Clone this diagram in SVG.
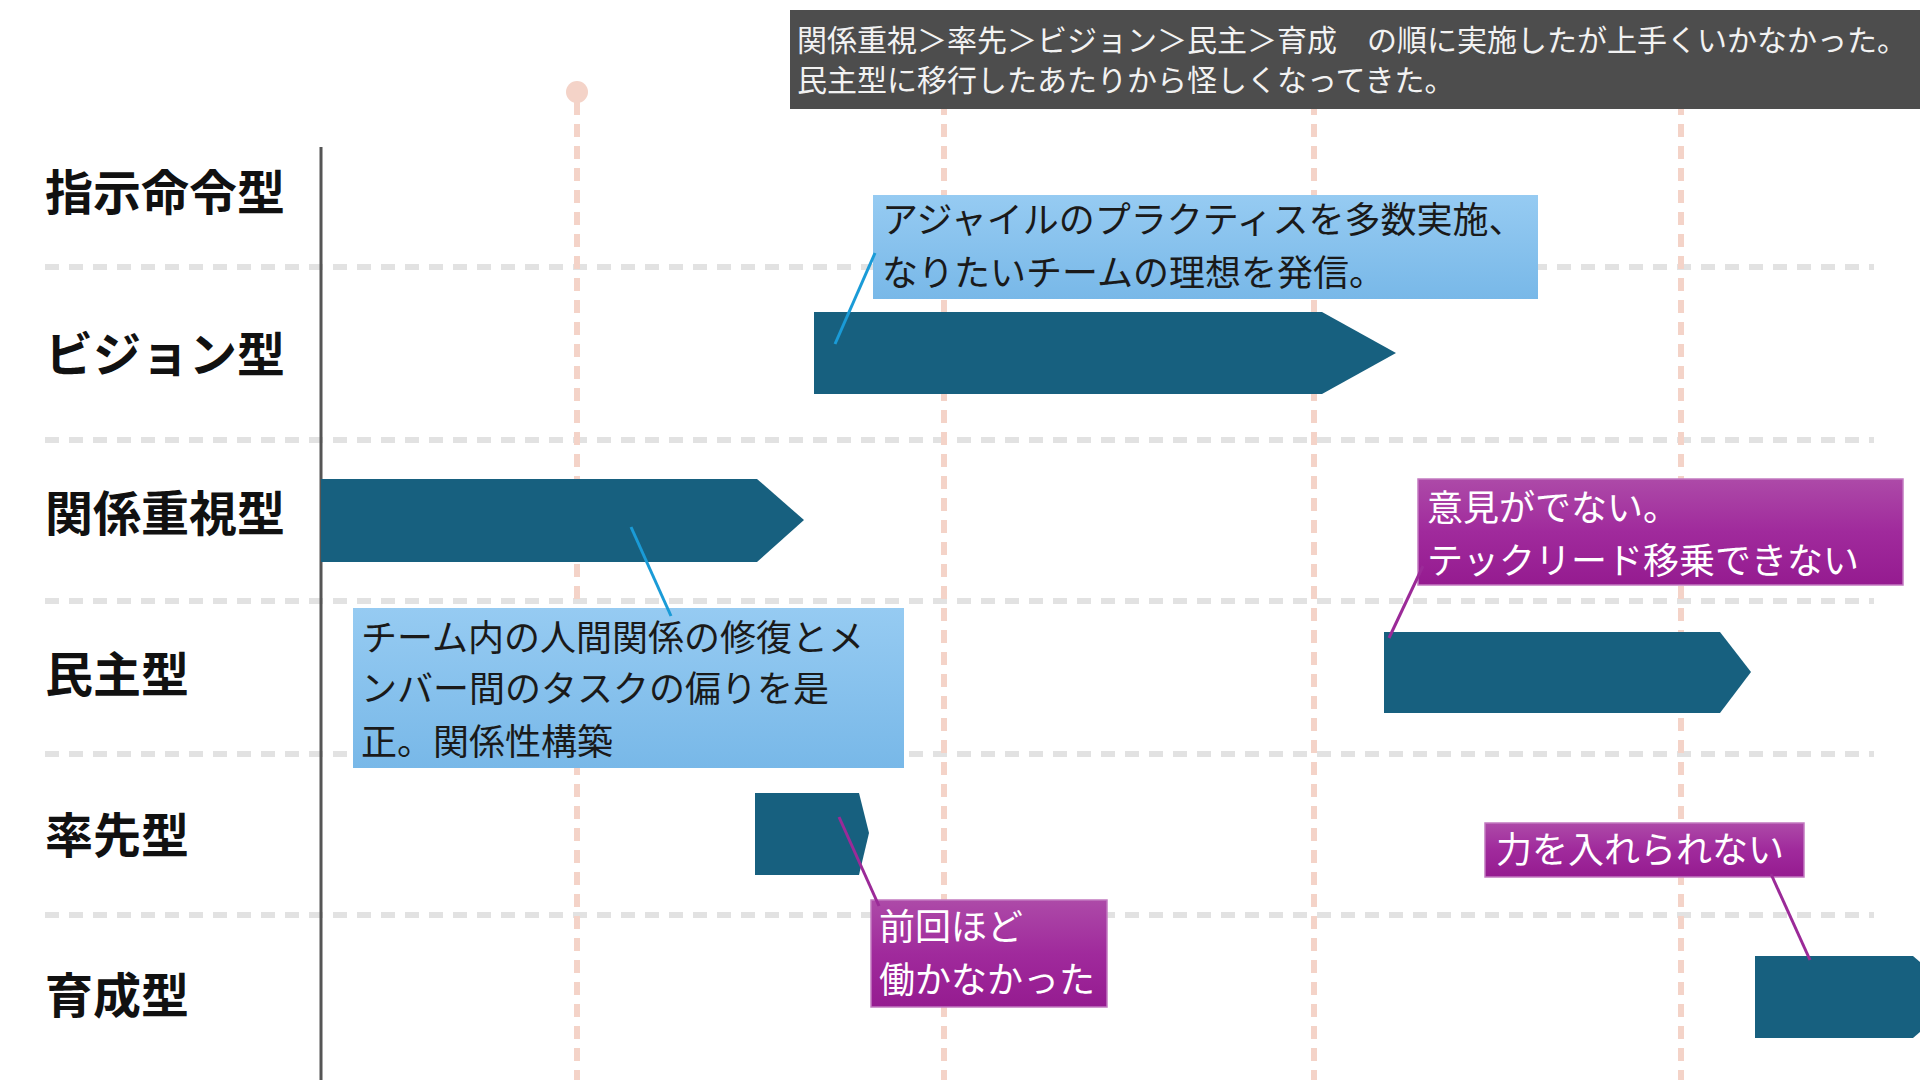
<svg xmlns="http://www.w3.org/2000/svg" width="1920" height="1080" viewBox="0 0 1920 1080">
<defs>
<linearGradient id="gBlue" x1="0" y1="0" x2="0" y2="1"><stop offset="0" stop-color="#96cbf2"/><stop offset="1" stop-color="#78b8e8"/></linearGradient>
<linearGradient id="gPurple" x1="0" y1="0" x2="0" y2="1"><stop offset="0" stop-color="#ad4aa8"/><stop offset="0.5" stop-color="#a02a9c"/><stop offset="1" stop-color="#951b90"/></linearGradient>
<style>
.row{stroke:#e2e2e2;stroke-width:6;stroke-dasharray:14 10;fill:none}
.col{stroke:#f4d3c8;stroke-width:6;stroke-dasharray:13 9;fill:none}
.bar{fill:#17607f}
.lbl{font-family:"Noto Sans CJK JP","Noto Sans",sans-serif;font-weight:700;font-size:48px;fill:#111}
.ct{font-family:"Noto Sans CJK JP","Noto Sans",sans-serif;font-size:36px}
.blue{fill:url(#gBlue)}
.purple{fill:url(#gPurple);stroke:#c27ac0;stroke-width:1.5}
.hd{font-family:"Noto Sans CJK JP","Noto Sans",sans-serif;font-size:30px;fill:#f2f2f2}
.lb{stroke:#1a9bd7;stroke-width:3;fill:none}
.lp{stroke:#9b2a98;stroke-width:3;fill:none}
</style>
</defs>
<rect width="1920" height="1080" fill="#ffffff"/>
<g id="grid">
<line class="row" x1="45" y1="267" x2="1874" y2="267"/>
<line class="row" x1="45" y1="440" x2="1874" y2="440"/>
<line class="row" x1="45" y1="601" x2="1874" y2="601"/>
<line class="row" x1="45" y1="754" x2="1874" y2="754"/>
<line class="row" x1="45" y1="915" x2="1874" y2="915"/>
<line class="col" x1="577" y1="102" x2="577" y2="1080"/>
<line class="col" x1="944" y1="102" x2="944" y2="1080"/>
<line class="col" x1="1314" y1="102" x2="1314" y2="1080"/>
<line class="col" x1="1681" y1="102" x2="1681" y2="1080"/>
<circle cx="577" cy="92" r="11" fill="#f4d3c8"/>
<line x1="321" y1="147" x2="321" y2="1080" stroke="#555555" stroke-width="3"/>
</g>
<g id="labels">
<text class="lbl" x="45" y="210">指示命令型</text>
<text class="lbl" x="45" y="372">ビジョン型</text>
<text class="lbl" x="45" y="531">関係重視型</text>
<text class="lbl" x="45" y="692">民主型</text>
<text class="lbl" x="45" y="853">率先型</text>
<text class="lbl" x="45" y="1013">育成型</text>
</g>
<g id="header">
<rect x="790" y="10" width="1130" height="99" fill="#4d4d4d"/>
<text class="hd" x="797" y="51">関係重視＞率先＞ビジョン＞民主＞育成　の順に実施したが上手くいかなかった。</text>
<text class="hd" x="797" y="91">民主型に移行したあたりから怪しくなってきた。</text>
</g>
<g id="bars">
<polygon id="bar-vision" class="bar" points="814,312 1322,312 1396,353 1322,394 814,394"/>
<polygon id="bar-kankei" class="bar" points="321,479 757,479 804,520 757,562 321,562"/>
<polygon id="bar-minshu" class="bar" points="1384,632 1720,632 1751,672 1720,713 1384,713"/>
<polygon id="bar-sossen" class="bar" points="755,793 859,793 869,833 859,875 755,875"/>
<polygon id="bar-ikusei" class="bar" points="1755,956 1913,956 1960,997 1913,1038 1755,1038"/>
</g>
<g id="callout-vision">
<rect class="blue" x="873" y="195" width="665" height="104"/>
<text class="ct" x="882" y="233" fill="#1a1a1a">アジャイルのプラクティスを多数実施、</text>
<text class="ct" x="882" y="286" fill="#1a1a1a">なりたいチームの理想を発信。</text>
</g>
<g id="callout-kankei">
<rect class="blue" x="353" y="608" width="551" height="160"/>
<text class="ct" x="361" y="651" fill="#1a1a1a">チーム内の人間関係の修復とメ</text>
<text class="ct" x="361" y="702" fill="#1a1a1a">ンバー間のタスクの偏りを是</text>
<text class="ct" x="361" y="755" fill="#1a1a1a">正。関係性構築</text>
</g>
<g id="callout-minshu">
<rect class="purple" x="1418" y="479" width="485" height="106"/>
<text class="ct" x="1427" y="521" fill="#ffffff">意見がでない。</text>
<text class="ct" x="1427" y="574" fill="#ffffff">テックリード移乗できない</text>
</g>
<g id="callout-ikusei">
<rect class="purple" x="1485" y="823" width="319" height="54"/>
<text class="ct" x="1496" y="863" fill="#ffffff">力を入れられない</text>
</g>
<g id="callout-sossen">
<rect class="purple" x="871" y="900" width="236" height="107"/>
<text class="ct" x="879" y="940" fill="#ffffff">前回ほど</text>
<text class="ct" x="879" y="993" fill="#ffffff">働かなかった</text>
</g>
<g id="connectors">
<line class="lb" x1="875" y1="253" x2="835" y2="344"/>
<line class="lb" x1="631" y1="527" x2="671" y2="616"/>
<line class="lp" x1="1423" y1="566" x2="1389" y2="638"/>
<line class="lp" x1="1771" y1="874" x2="1810" y2="960"/>
<line class="lp" x1="839" y1="817" x2="879" y2="906"/>
</g>
</svg>
